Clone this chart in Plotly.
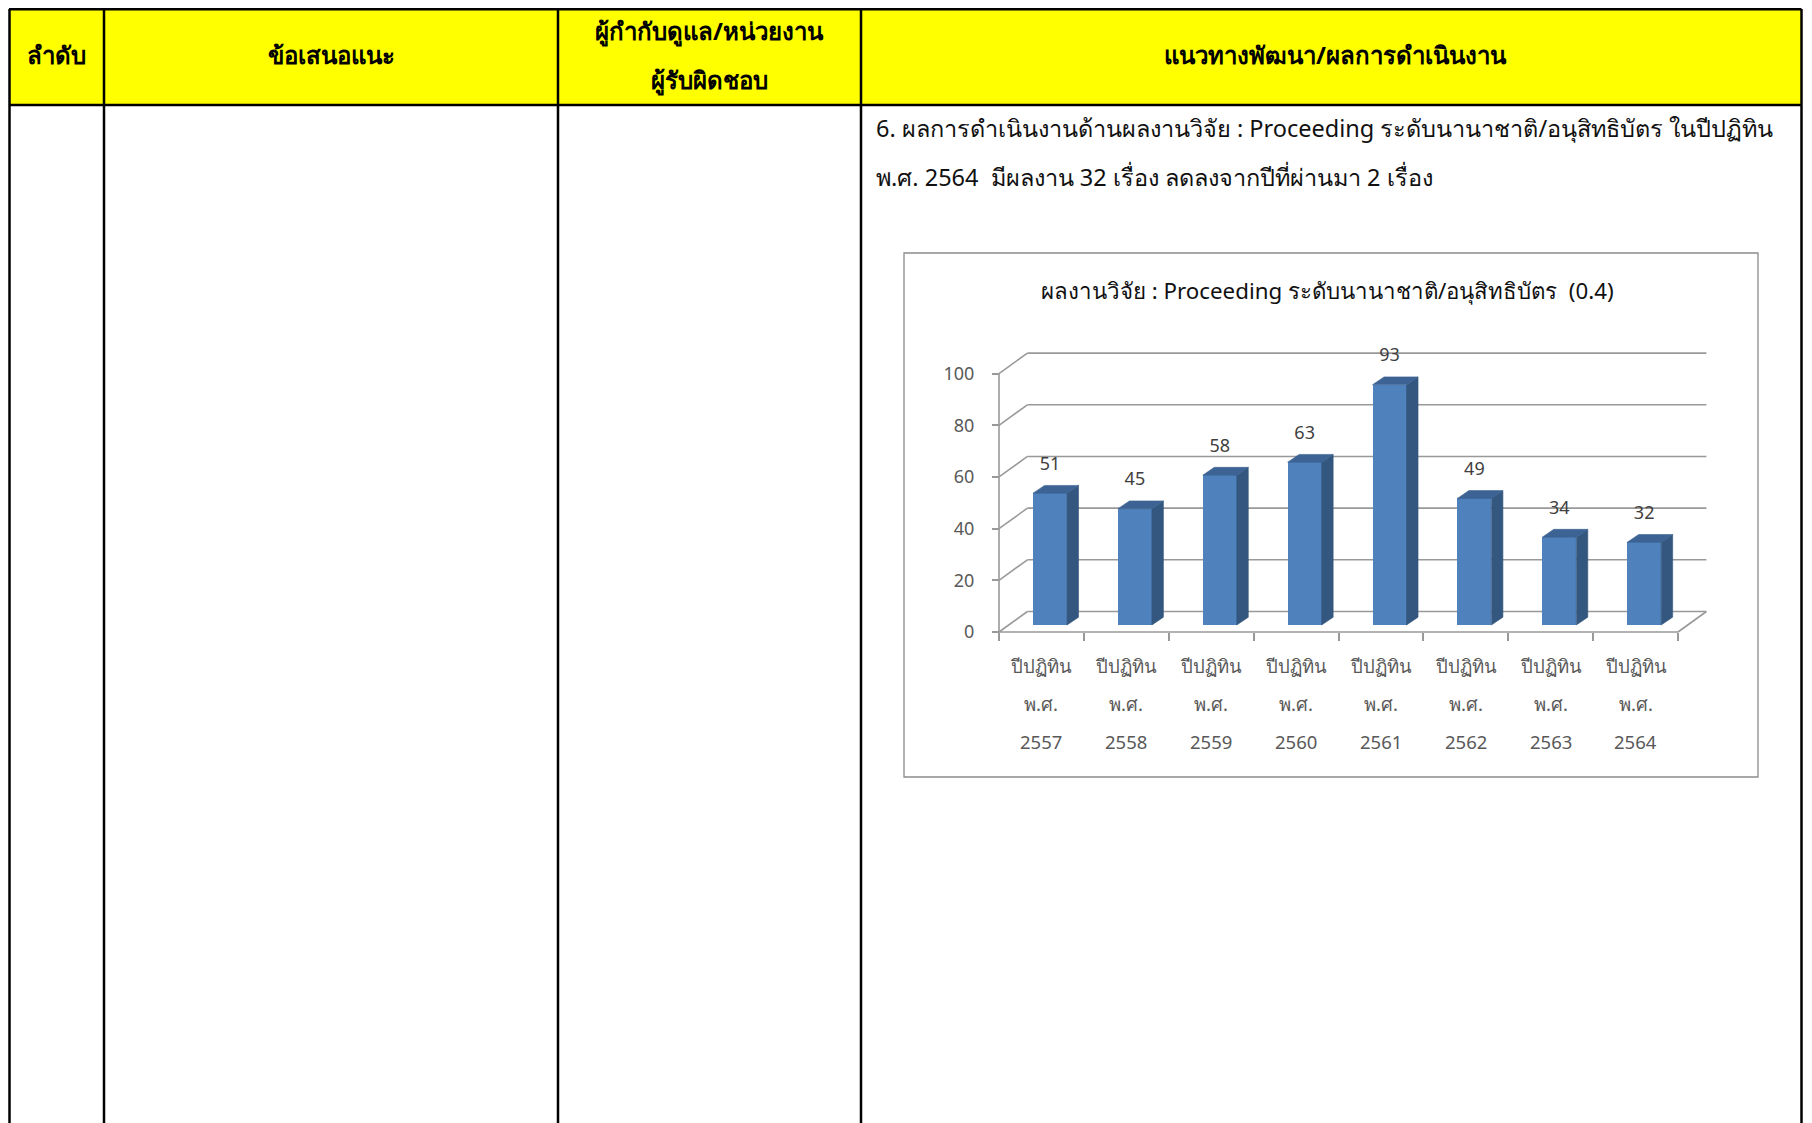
import plotly.graph_objects as go

# ---------------- data ----------------
years = ["2557", "2558", "2559", "2560", "2561", "2562", "2563", "2564"]
label_line1 = "ปีปฏิทิน"
label_line2 = "พ.ศ."
values = [51, 45, 58, 63, 93, 49, 34, 32]
y_ticks = [0, 20, 40, 60, 80, 100]

chart_title = "ผลงานวิจัย : Proceeding ระดับนานาชาติ/อนุสิทธิบัตร  (0.4)"
header_texts = ["ลำดับ", "ข้อเสนอแนะ", "ผู้กำกับดูแล/หน่วยงาน", "ผู้รับผิดชอบ", "แนวทางพัฒนา/ผลการดำเนินงาน"]
body_line1 = "6. ผลการดำเนินงานด้านผลงานวิจัย : Proceeding ระดับนานาชาติ/อนุสิทธิบัตร ในปีปฏิทิน"
body_line2 = "พ.ศ. 2564  มีผลงาน 32 เรื่อง ลดลงจากปีที่ผ่านมา 2 เรื่อง"

# ---------------- layout constants ----------------
OFF = 8.0   # page body margin: figure origin sits at page (8, 8)
W, H = 1804, 1115
def px(x):
    return (x - OFF) / W
def py(y):
    return 1 - (y - OFF) / H

# pixel (page) mapping of the chart axes
X0_PX = 999.0          # front axis left (x=-0.5)
CAT_PX = 84.875        # px per category
Y0_PX = 632.0          # front axis zero
UNIT_PX = 2.584        # px per value unit

DOM_X = (960.0, 1730.0)
DOM_Y = (645.0, 335.0)   # bottom, top (pixels)
xr = [(DOM_X[0] - X0_PX) / CAT_PX - 0.5, (DOM_X[1] - X0_PX) / CAT_PX - 0.5]
yr = [(Y0_PX - DOM_Y[0]) / UNIT_PX, (Y0_PX - DOM_Y[1]) / UNIT_PX]

DX = 28.4 / CAT_PX      # wall depth (category units)
DY = 20.5 / UNIT_PX     # wall depth (value units)
BAR_OFF = 8.6 / CAT_PX
BAR_W = 34.0 / CAT_PX
BAR_BASE = 7.0 / UNIT_PX
BDX = 11.5 / CAT_PX
BDY = 7.8 / UNIT_PX
LABEL_OFF = 28.0 / UNIT_PX

n = len(values)
xs = list(range(n))

fig = go.Figure()

# front faces of bars
fig.add_trace(go.Bar(
    x=[i + BAR_OFF for i in xs], y=values, base=BAR_BASE, width=BAR_W,
    marker=dict(color="#4f81bd", line=dict(width=0)), hoverinfo="skip", showlegend=False))

# side and top faces
sx, sy, tx, ty = [], [], [], []
for i, v in zip(xs, values):
    xl = i + BAR_OFF - BAR_W / 2
    xrr = i + BAR_OFF + BAR_W / 2
    top = BAR_BASE + v
    sx += [xrr, xrr + BDX, xrr + BDX, xrr, xrr, None]
    sy += [BAR_BASE, BAR_BASE + BDY, top + BDY, top, BAR_BASE, None]
    tx += [xl, xrr, xrr + BDX, xl + BDX, xl, None]
    ty += [top, top, top + BDY, top + BDY, top, None]
fig.add_trace(go.Scatter(x=sx, y=sy, mode="lines", fill="toself", fillcolor="#34577f",
                         line=dict(width=0.6, color="#34577f"), hoverinfo="skip", showlegend=False))
fig.add_trace(go.Scatter(x=tx, y=ty, mode="lines", fill="toself", fillcolor="#3c6393",
                         line=dict(width=0.6, color="#3c6393"), hoverinfo="skip", showlegend=False))

# data labels
fig.add_trace(go.Scatter(
    x=[i + BAR_OFF for i in xs], y=[BAR_BASE + v + LABEL_OFF for v in values],
    mode="text", text=[str(v) for v in values], textposition="middle center",
    textfont=dict(family="Noto Sans, Tahoma, sans-serif", size=18, color="#404040"),
    hoverinfo="skip", showlegend=False, cliponaxis=False))

shapes = []
GRID = dict(color="#999999", width=1.6)
for v in y_ticks:
    shapes.append(dict(type="line", xref="x", yref="y", x0=-0.5, y0=v, x1=-0.5 + DX, y1=v + DY,
                       line=GRID, layer="below"))
    shapes.append(dict(type="line", xref="x", yref="y", x0=-0.5 + DX, y0=v + DY, x1=n - 0.5 + DX, y1=v + DY,
                       line=GRID, layer="below"))
shapes.append(dict(type="line", xref="x", yref="y", x0=-0.5, y0=0, x1=-0.5, y1=max(y_ticks), line=GRID, layer="below"))
shapes.append(dict(type="line", xref="x", yref="y", x0=-0.5, y0=0, x1=n - 0.5, y1=0, line=GRID, layer="below"))
shapes.append(dict(type="line", xref="x", yref="y", x0=n - 0.5, y0=0, x1=n - 0.5 + DX, y1=DY, line=GRID, layer="below"))

# ---------------- table decoration ----------------
RIGHT = 1801.5
shapes.append(dict(type="rect", xref="paper", yref="paper", x0=px(9), x1=px(RIGHT), y0=py(105), y1=py(9),
                   fillcolor="#ffff00", line=dict(width=0), layer="below"))
BL = dict(color="#000000", width=2.5)
for xv in [9.5, 104, 558, 861, RIGHT]:
    shapes.append(dict(type="line", xref="paper", yref="paper", x0=px(xv), x1=px(xv), y0=0, y1=py(9), line=BL))
for yv in [9.2, 105]:
    shapes.append(dict(type="line", xref="paper", yref="paper", x0=px(9), x1=px(RIGHT), y0=py(yv), y1=py(yv), line=BL))
shapes.append(dict(type="rect", xref="paper", yref="paper", x0=px(904), x1=px(1758), y0=py(777), y1=py(253),
                   line=dict(color="#8c8c8c", width=1.3), fillcolor="rgba(0,0,0,0)", layer="below"))

annotations = []
HFONT = dict(family="Noto Sans, sans-serif", size=24, color="#000000")
hpos = [((9 + 104) / 2, 55), ((104 + 558) / 2, 55), ((558 + 861) / 2, 31), ((558 + 861) / 2, 79),
        ((861 + 1810) / 2, 55)]
for t, (xc, yc) in zip(header_texts, hpos):
    annotations.append(dict(xref="paper", yref="paper", x=px(xc), y=py(yc), text="<b>" + t + "</b>",
                            showarrow=False, xanchor="center", yanchor="middle", font=HFONT, align="center"))

BFONT = dict(family="Noto Sans, sans-serif", size=23.5, color="#111111")
annotations.append(dict(xref="paper", yref="paper", x=px(874), y=py(128), text=body_line1, showarrow=False,
                        xanchor="left", yanchor="middle", font=BFONT))
annotations.append(dict(xref="paper", yref="paper", x=px(874), y=py(177), text=body_line2, showarrow=False,
                        xanchor="left", yanchor="middle", font=BFONT))

annotations.append(dict(xref="paper", yref="paper", x=px(1327), y=py(290), text=chart_title, showarrow=False,
                        xanchor="center", yanchor="middle",
                        font=dict(family="Noto Sans, Tahoma, sans-serif", size=22.3, color="#111111")))

LFONT = dict(family="Noto Sans, Tahoma, sans-serif", size=18.5, color="#595959")
for i, yr_lbl in zip(xs, years):
    for txt, ypx in [(label_line1, 665), (label_line2, 703), (yr_lbl, 741)]:
        annotations.append(dict(xref="x", yref="paper", x=i, y=py(ypx), text=txt, showarrow=False,
                                xanchor="center", yanchor="middle", font=LFONT))

fig.update_layout(
    width=W, height=H, margin=dict(l=0, r=0, t=0, b=0),
    paper_bgcolor="white", plot_bgcolor="rgba(0,0,0,0)",
    shapes=shapes, annotations=annotations, bargap=0, showlegend=False,
    xaxis=dict(domain=[px(DOM_X[0]), px(DOM_X[1])], range=xr, anchor="free", position=py(Y0_PX),
               tickmode="array", tickvals=[i - 0.5 for i in range(n + 1)], showticklabels=False,
               ticks="outside", ticklen=8, tickwidth=1.5, tickcolor="#999999",
               showgrid=False, zeroline=False, showline=False, fixedrange=True),
    yaxis=dict(domain=[py(DOM_Y[0]), py(DOM_Y[1])], range=yr, anchor="free", position=px(X0_PX),
               tickmode="array", tickvals=y_ticks, ticks="outside", ticklen=7, tickwidth=1.5,
               tickcolor="#999999", ticklabelstandoff=14,
               tickfont=dict(family="Noto Sans, Tahoma, sans-serif", size=18, color="#595959"),
               showgrid=False, zeroline=False, showline=False, fixedrange=True),
)

fig.write_html("out.html")
